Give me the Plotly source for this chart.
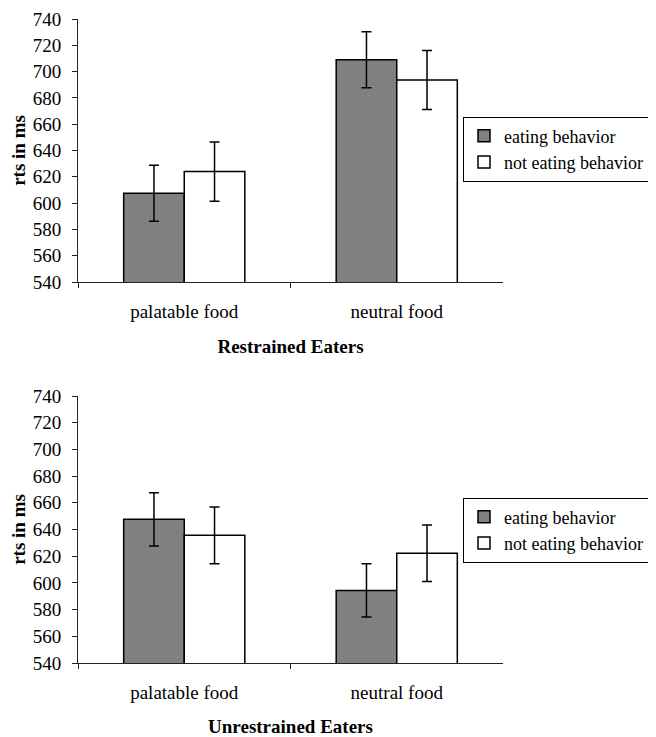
import plotly.graph_objects as go

categories = ["palatable food", "neutral food"]
series_names = ["eating behavior", "not eating behavior"]

restrained_eating = [607.5, 709]
restrained_eating_err = [21.3, 21.3]
restrained_not = [624, 693.6]
restrained_not_err = [22.5, 22.5]

unrestrained_eating = [647.6, 594.4]
unrestrained_eating_err = [20, 20]
unrestrained_not = [635.6, 622.2]
unrestrained_not_err = [21.2, 21.2]

y_ticks = list(range(540, 741, 20))

FONT = "Liberation Serif"
FS = 19
GRAY = "#808080"
AX = "#222222"

fig = go.Figure()

def add_bars(vals, errs, name, color, xa, ya, legend):
    fig.add_trace(go.Bar(
        x=categories, y=vals, name=name,
        marker=dict(color=color, line=dict(color="black", width=1.5)),
        error_y=dict(type="data", array=errs, color="black", thickness=1.5, width=5),
        xaxis=xa, yaxis=ya, legend=legend,
    ))

add_bars(restrained_eating, restrained_eating_err, series_names[0], GRAY, "x", "y", "legend")
add_bars(restrained_not, restrained_not_err, series_names[1], "white", "x", "y", "legend")
add_bars(unrestrained_eating, unrestrained_eating_err, series_names[0], GRAY, "x2", "y2", "legend2")
add_bars(unrestrained_not, unrestrained_not_err, series_names[1], "white", "x2", "y2", "legend2")

# page body has an 8px margin; figure is sized to fit the window
OFF = 8
W, H = 656 - OFF, 737 - OFF

def px_x(x):
    return (x - OFF) / W

def px_y(y):
    return (H - (y - OFF)) / H

def yd(top, bottom):
    return [px_y(bottom), px_y(top)]

xaxis_common = dict(
    domain=[px_x(78), px_x(503)], showline=True, linecolor=AX, linewidth=1,
    ticks="outside", tickson="boundaries", ticklen=5, tickcolor=AX,
    showgrid=False, tickfont=dict(family=FONT, size=FS, color="black"),
    automargin=False, ticklabelstandoff=12, ticklabeloverflow="allow",
)
yaxis_common = dict(
    range=[540, 740], tickvals=y_ticks, showline=True, linecolor=AX, linewidth=1,
    ticks="outside", ticklen=5, tickcolor=AX, showgrid=False, zeroline=False,
    tickfont=dict(family=FONT, size=FS, color="black"), automargin=False,
    ticklabelstandoff=7, ticklabeloverflow="allow",
    title=dict(text="<b>rts in ms</b>", font=dict(family=FONT, size=FS, color="black"), standoff=9),
)

legend_common = dict(
    x=px_x(463), xanchor="left", yanchor="middle",
    bordercolor="black", borderwidth=1, bgcolor="white",
    font=dict(family=FONT, size=18, color="black"),
)

fig.update_layout(
    width=W, height=H,
    margin=dict(l=0, r=0, t=0, b=0, autoexpand=False),
    paper_bgcolor="white", plot_bgcolor="white",
    barmode="group", bargap=0.43, bargroupgap=0,
    font=dict(family=FONT, size=FS, color="black"),
    xaxis=dict(**xaxis_common, anchor="y",
               title=dict(text="<b>Restrained Eaters</b>", font=dict(family=FONT, size=FS, color="black"), standoff=18)),
    yaxis=dict(**yaxis_common, domain=yd(19, 282), anchor="x"),
    xaxis2=dict(**xaxis_common, anchor="y2",
                title=dict(text="<b>Unrestrained Eaters</b>", font=dict(family=FONT, size=FS, color="black"), standoff=18)),
    yaxis2=dict(**yaxis_common, domain=yd(396, 663), anchor="x2"),
    legend=dict(**legend_common, y=px_y(149)),
    legend2=dict(**legend_common, y=px_y(530)),
)

fig.write_html("out.html")
